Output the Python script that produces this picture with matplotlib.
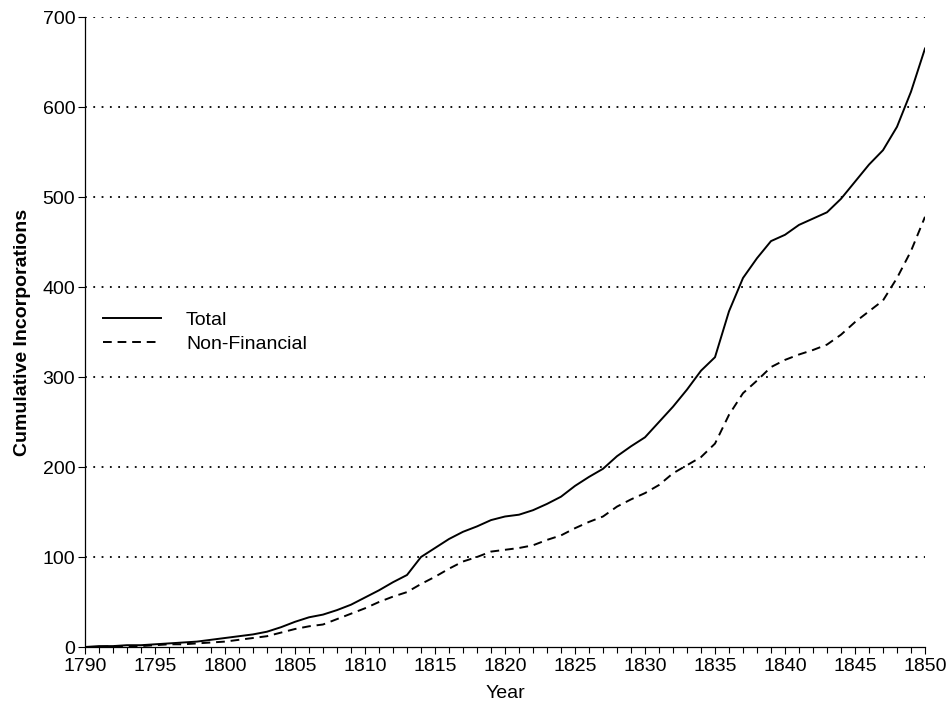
import matplotlib
matplotlib.use("Agg")
import matplotlib.pyplot as plt
from matplotlib.ticker import MultipleLocator

plt.rcParams["font.family"] = ["Liberation Sans", "DejaVu Sans"]

years = list(range(1790, 1851))

total = [0, 1, 1, 2, 2, 3, 4, 5, 6, 8,
         10, 12, 14, 17, 22, 28, 33, 36, 41, 47,
         55, 63, 72, 80, 100, 110, 120, 128, 134, 141,
         145, 147, 152, 159, 167, 179, 189, 198, 212, 223,
         233, 250, 267, 286, 307, 322, 373, 410, 432, 451,
         458, 469, 476, 483, 498, 517, 536, 552, 578, 617,
         665]

non_financial = [0, 0, 1, 1, 1, 2, 3, 3, 4, 5,
                 6, 8, 10, 12, 16, 20, 23, 25, 31, 37,
                 43, 50, 56, 61, 70, 78, 87, 95, 100, 106,
                 108, 110, 113, 119, 124, 132, 139, 145, 156, 164,
                 171, 180, 193, 202, 211, 226, 258, 282, 296, 311,
                 319, 325, 330, 336, 347, 361, 373, 385, 410, 440,
                 478]

fig = plt.figure(figsize=(9.52, 7.08), dpi=100)
ax = fig.add_axes([85 / 952, 1 - 647 / 708, 840 / 952, 630 / 708])

ax.plot(years, total, color="black", lw=1.4, label="Total")
ax.plot(years, non_financial, color="black", lw=1.4, ls=(0, (4.5, 3)),
        label="Non-Financial")

ax.set_xlim(1790, 1850)
ax.set_ylim(0, 700)
ax.xaxis.set_major_locator(MultipleLocator(5))
ax.xaxis.set_minor_locator(MultipleLocator(1))
ax.yaxis.set_major_locator(MultipleLocator(100))

for v in range(100, 701, 100):
    ax.axhline(v, color="black", lw=1.3, ls=(0, (1, 3.6)), zorder=0)

for side in ("top", "right"):
    ax.spines[side].set_visible(False)
ax.spines["left"].set_linewidth(0.9)
ax.spines["bottom"].set_linewidth(0.9)

ax.tick_params(axis="x", which="major", length=5, width=0.8, labelsize=14, pad=3)
ax.tick_params(axis="x", which="minor", length=4, width=0.8)
ax.tick_params(axis="y", which="major", length=5, width=0.8, labelsize=14, pad=2)

ax.set_xlabel("Year", fontsize=14, labelpad=7)
ax.set_ylabel("Cumulative Incorporations", fontsize=14, fontweight="bold", labelpad=8)

ax.legend(loc="center left", bbox_to_anchor=(0.0, 0.5), frameon=False,
          fontsize=14, handlelength=3.0, handletextpad=1.3,
          labelspacing=0.3, borderaxespad=0.5)

fig.savefig("out.png", dpi=100)
